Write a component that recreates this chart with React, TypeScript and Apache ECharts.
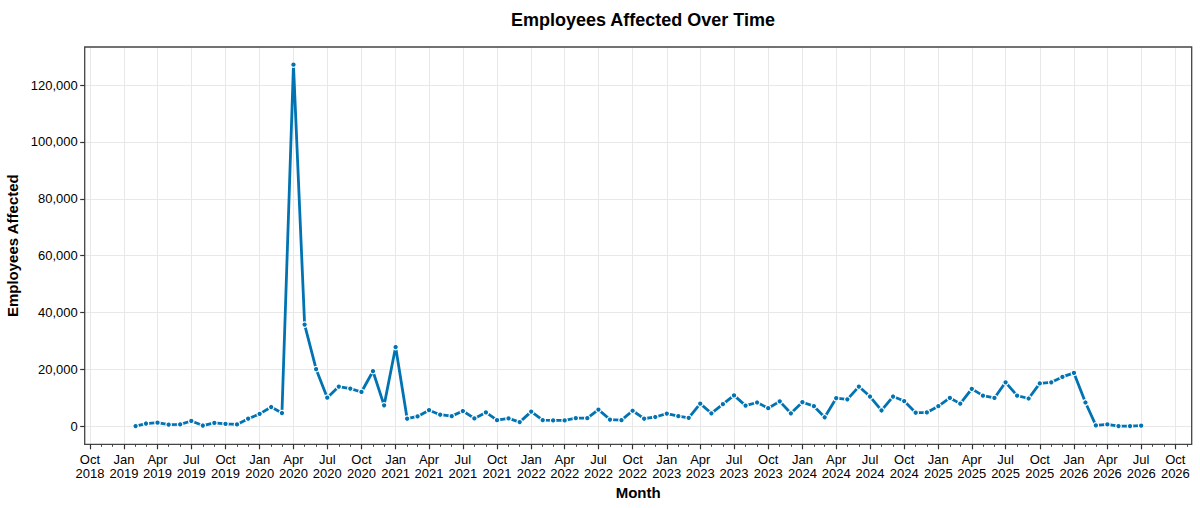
import { useEffect, useRef } from 'react';
import * as echarts from 'echarts';

// months (YYYY-MM) and employees affected per month
const months: string[] = [
  '2019-02', '2019-03', '2019-04', '2019-05', '2019-06', '2019-07', '2019-08', '2019-09', '2019-10', '2019-11', '2019-12',
  '2020-01', '2020-02', '2020-03', '2020-04', '2020-05', '2020-06', '2020-07', '2020-08', '2020-09', '2020-10', '2020-11', '2020-12',
  '2021-01', '2021-02', '2021-03', '2021-04', '2021-05', '2021-06', '2021-07', '2021-08', '2021-09', '2021-10', '2021-11', '2021-12',
  '2022-01', '2022-02', '2022-03', '2022-04', '2022-05', '2022-06', '2022-07', '2022-08', '2022-09', '2022-10', '2022-11', '2022-12',
  '2023-01', '2023-02', '2023-03', '2023-04', '2023-05', '2023-06', '2023-07', '2023-08', '2023-09', '2023-10', '2023-11', '2023-12',
  '2024-01', '2024-02', '2024-03', '2024-04', '2024-05', '2024-06', '2024-07', '2024-08', '2024-09', '2024-10', '2024-11', '2024-12',
  '2025-01', '2025-02', '2025-03', '2025-04', '2025-05', '2025-06', '2025-07', '2025-08', '2025-09', '2025-10', '2025-11', '2025-12',
  '2026-01', '2026-02', '2026-03', '2026-04', '2026-05', '2026-06', '2026-07',
];

const employeesAffected: number[] = [
  100, 1000, 1300, 600, 700, 1900, 300, 1200, 900, 700, 2700,
  4400, 6800, 4700, 127200, 35800, 20100, 10100, 14000, 13300, 12100, 19400, 7400,
  27900, 2700, 3500, 5700, 4100, 3600, 5400, 2800, 4900, 2200, 2800, 1500,
  5200, 2200, 2100, 2100, 2900, 2900, 5900, 2400, 2200, 5500, 2700, 3300,
  4500, 3600, 3000, 8000, 4600, 7800, 10900, 7300, 8400, 6400, 8800, 4600,
  8500, 7100, 3200, 9900, 9500, 14000, 10500, 5600, 10500, 8900, 4800, 4900,
  7100, 10000, 8000, 13200, 10800, 10000, 15500, 10800, 9800, 15100, 15500, 17400,
  18800, 8400, 350, 700, 100, 100, 250,
];

// quarterly tick labels on the x axis
const quarterTicks: string[] = [
  '2018-10',
  '2019-01', '2019-04', '2019-07', '2019-10',
  '2020-01', '2020-04', '2020-07', '2020-10',
  '2021-01', '2021-04', '2021-07', '2021-10',
  '2022-01', '2022-04', '2022-07', '2022-10',
  '2023-01', '2023-04', '2023-07', '2023-10',
  '2024-01', '2024-04', '2024-07', '2024-10',
  '2025-01', '2025-04', '2025-07', '2025-10',
  '2026-01', '2026-04', '2026-07', '2026-10',
];

const yTicks: number[] = [0, 20000, 40000, 60000, 80000, 100000, 120000];

const MONTH_NAMES = ['Jan', 'Feb', 'Mar', 'Apr', 'May', 'Jun', 'Jul', 'Aug', 'Sep', 'Oct', 'Nov', 'Dec'];
const FONT = '"Liberation Sans", Arial, Helvetica, sans-serif';
const BLUE = '#0173b2';
const GRID_COLOR = '#e8e8e8';

const toTs = (ym: string) => {
  const [y, m] = ym.split('-').map(Number);
  return Date.UTC(y, m - 1, 1);
};

const App: React.FC = () => {
  const chartRef = useRef<HTMLDivElement>(null);

  useEffect(() => {
    document.body.style.margin = '0';
    if (!chartRef.current) return;
    const chart = echarts.init(chartRef.current, undefined, { renderer: 'svg' });

    const xMin = Date.UTC(2018, 8, 17);
    const xMax = Date.UTC(2026, 10, 14);
    const yMin = -6300;
    const yMax = 133400;
    const gridLeft = 84.7;
    const gridRight = 8.3;
    const gridTop = 47;
    const gridBottom = 63.7;
    const plotW = 1200 - gridLeft - gridRight;
    const plotH = 508 - gridTop - gridBottom;

    // monthly minor ticks
    const monthTicks: number[] = [];
    for (let y = 2018; y <= 2026; y++) {
      for (let m = 0; m < 12; m++) {
        const t = Date.UTC(y, m, 1);
        if (t >= xMin && t <= xMax) monthTicks.push(t);
      }
    }
    const qTicks = quarterTicks.map(toTs);

    const option: echarts.EChartsOption = {
      animation: false,
      backgroundColor: '#fff',
      title: {
        text: 'Employees Affected Over Time',
        left: 638,
        textAlign: 'center',
        top: 6,
        textStyle: { fontFamily: FONT, fontSize: 18, fontWeight: 'bold', color: '#000' },
      },
      grid: {
        left: gridLeft,
        right: gridRight,
        top: gridTop,
        bottom: gridBottom,
        outerBoundsMode: 'none',
        show: true,
        borderColor: '#444',
        borderWidth: 1.3,
        backgroundColor: 'transparent',
      } as any,
      xAxis: [
        {
          type: 'value',
          min: xMin,
          max: xMax,
          position: 'bottom',
          name: 'Month',
          nameLocation: 'middle',
          nameGap: 39,
          nameTextStyle: { fontFamily: FONT, fontSize: 15, fontWeight: 'bold', color: '#000' },
          axisLine: { show: false, onZero: false },
          axisTick: {
            show: true,
            length: 5,
            customValues: qTicks,
            lineStyle: { color: '#333', width: 1.2 },
          },
          axisLabel: {
            customValues: qTicks,
            margin: 8,
            fontFamily: FONT,
            fontSize: 13,
            lineHeight: 14,
            color: '#000',
            formatter: (v: number) => {
              const d = new Date(v);
              return `${MONTH_NAMES[d.getUTCMonth()]}\n${d.getUTCFullYear()}`;
            },
          },
          splitLine: { show: false },
        },
        {
          // monthly minor ticks
          type: 'value',
          min: xMin,
          max: xMax,
          position: 'bottom',
          axisLine: { show: false, onZero: false },
          axisTick: {
            show: true,
            length: 2.5,
            customValues: monthTicks,
            lineStyle: { color: '#333', width: 0.9 },
          },
          axisLabel: { show: false },
          splitLine: { show: false },
        },
        {
          // vertical grid lines at the quarters
          type: 'value',
          min: xMin,
          max: xMax,
          position: 'bottom',
          z: -1,
          axisLine: { show: false, onZero: false },
          axisTick: {
            show: true,
            inside: true,
            length: plotH,
            customValues: qTicks,
            lineStyle: { color: GRID_COLOR, width: 1 },
          },
          axisLabel: { show: false },
          splitLine: { show: false },
        },
      ],
      yAxis: [
        {
          type: 'value',
          min: yMin,
          max: yMax,
          position: 'left',
          name: 'Employees Affected',
          nameLocation: 'middle',
          nameGap: 62,
          nameTextStyle: { fontFamily: FONT, fontSize: 15, fontWeight: 'bold', color: '#000' },
          axisLine: { show: false, onZero: false },
          axisTick: {
            show: true,
            length: 4.5,
            customValues: yTicks,
            lineStyle: { color: '#333', width: 1.2 },
          },
          axisLabel: {
            customValues: yTicks,
            margin: 7,
            fontFamily: FONT,
            fontSize: 13,
            color: '#000',
            formatter: (v: number) => v.toLocaleString('en-US'),
          },
          splitLine: { show: false },
        },
        {
          // horizontal grid lines
          type: 'value',
          min: yMin,
          max: yMax,
          position: 'left',
          z: -1,
          axisLine: { show: false, onZero: false },
          axisTick: {
            show: true,
            inside: true,
            length: plotW,
            customValues: yTicks,
            lineStyle: { color: GRID_COLOR, width: 1 },
          },
          axisLabel: { show: false },
          splitLine: { show: false },
        },
      ],
      series: [
        {
          name: 'Employees Affected',
          type: 'line',
          xAxisIndex: 0,
          yAxisIndex: 0,
          data: months.map((m, i) => [toTs(m), employeesAffected[i]]),
          symbol: 'circle',
          symbolSize: 5.5,
          lineStyle: { color: BLUE, width: 2.8 },
          itemStyle: { color: BLUE, borderColor: '#fff', borderWidth: 1.2 },
          z: 5,
        },
      ],
    };

    chart.setOption(option);
    return () => {
      chart.dispose();
    };
  }, []);

  return <div ref={chartRef} style={{ width: '1200px', height: '508px' }} />;
};

export default App;
